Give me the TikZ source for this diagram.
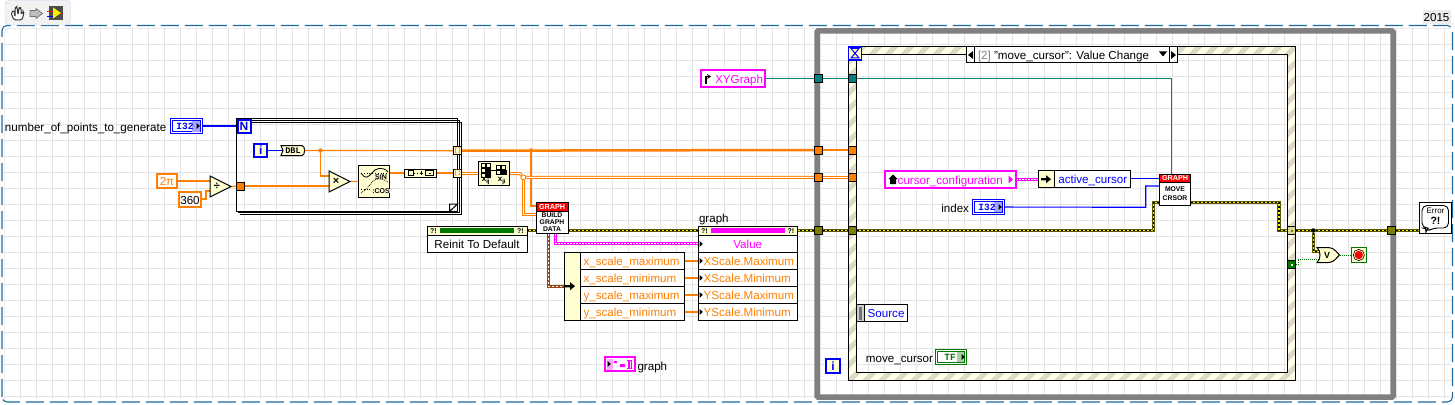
\documentclass[tikz,border=0pt]{standalone}
\usepackage{fontspec}
\setmainfont{Liberation Sans}
\setmonofont{Liberation Mono}
\usetikzlibrary{arrows.meta}
\definecolor{cream}{RGB}{255,255,210}
\definecolor{ringcream}{RGB}{255,255,232}
\definecolor{lvorange}{RGB}{255,128,0}
\definecolor{lvblue}{RGB}{0,0,255}
\definecolor{lvpink}{RGB}{255,0,255}
\definecolor{lvteal}{RGB}{0,128,128}
\definecolor{lvolive}{RGB}{128,128,0}
\definecolor{lvgreen}{RGB}{0,120,0}
\definecolor{lvbrown}{RGB}{150,70,25}
\definecolor{stripe}{RGB}{220,218,198}
\definecolor{framegray}{RGB}{128,128,128}
\definecolor{gridgray}{RGB}{228,228,228}
\definecolor{dashblue}{RGB}{30,105,160}
\pgfdeclarelayer{sheet}
\pgfdeclarelayer{wires}
\pgfsetlayers{sheet,wires,main}

\begin{document}
\begin{tikzpicture}[x=1pt, y=-1pt,
        box/.style 2 args = {minimum width=#1, minimum height=#2, inner sep=0, outer sep=0},
        txt/.style = {inner sep=0, outer sep=0, text height=9, text depth=0, font=\fontsize{11.6}{12}\selectfont},
        tiny/.style = {inner sep=0, outer sep=0, font=\fontsize{7}{7.2}\selectfont\bfseries, align=center},
        mono/.style = {inner sep=0, outer sep=0, font=\fontsize{9.5}{10}\ttfamily\bfseries},
        sym/.style = {inner sep=0, outer sep=0, font=\fontsize{11}{11}\selectfont\bfseries},
        block/.style = {draw=black, line width=1, fill=cream},
        white block/.style = {draw=black, line width=1, fill=white},
        tag/.style = {draw=#1, line width=2, fill=cream},
        ctrl/.style = {draw=#1, line width=1.2, double=white, double distance=1, fill=white},
        const/.style = {draw=lvorange, line width=2, fill=white},
        ref/.style = {draw=lvpink, line width=2, fill=white},
        tunnel/.style = {box={8}{8}, draw=black, line width=1, fill=#1},
        title/.style = {fill=red, text=white, font=\fontsize{7.2}{7.5}\selectfont\bfseries, inner sep=0},
        row/.style = {box={99.5}{17}, white block, txt, text=lvorange, text width=99.5, align=left, execute at begin node=\hspace*{5.7pt}},
        subrow/.style = {box={104}{17}, white block, txt, text=lvorange, text width=104, align=left, execute at begin node=\hspace*{3pt}},
        owire/.style = {draw=lvorange, line width=1.2},
        othick/.style = {draw=lvorange, line width=2.5},
        odouble/.style = {draw=lvorange, line width=1, double=white, double distance=1},
        bwire/.style = {draw=lvblue, line width=1.1},
        twire/.style = {draw=lvteal, line width=1.1},
        gwire/.style = {draw=lvgreen, line width=1, dash pattern=on 1 off 1},
        errwire/.style = {draw=yellow, line width=1.4, preaction={draw=black!30!lvolive, line width=3.4}, postaction={draw=black, line width=1.4, dash pattern=on 2 off 2}},
        pinkwire/.style = {draw=lvpink, line width=3.2, postaction={draw=white, line width=1, dash pattern=on 2 off 1}},
        brownwire/.style = {draw=lvbrown, line width=3.2, postaction={draw=white, line width=0.8, dash pattern=on 2 off 2}},
        tri/.pic = {\fill (-1.5,-3) -- (1.8,0) -- (-1.5,3) -- cycle;},
        fatarrow/.pic = {\fill (-5,-1.2) -- (0,-1.2) -- (0,-4) -- (5,0) -- (0,4) -- (0,1.2) -- (-5,1.2) -- cycle;}]
    \useasboundingbox (0,0) rectangle (1455,404);
    \begin{pgfonlayer}{sheet}
    \fill[white] (0,0) rectangle (1455,404);
    \foreach \gx in {20.5,36.5,...,1450} \draw[gridgray] (\gx,28.5) -- (\gx,399);
    \foreach \gy in {44.5,60.5,...,399} \draw[gridgray] (4.5,\gy) -- (1451,\gy);
    \draw[gridgray!90!black, rounded corners=4] (4.5,399) -- (4.5,28.5) -- (1451,28.5);
    \draw[dashblue, line width=1.1, dash pattern=on 18 off 6, rounded corners=5] (2,402) -- (2,25.5) -- (1452.5,25.5) -- (1452.5,402) -- cycle;
    \draw[draw=black!15!blue!20!white, fill=black!5, rounded corners=4] (5,25) -- (5,0.5) -- (70.5,0.5) -- (70.5,25) -- cycle;
    \draw[framegray, line width=5.5, rounded corners=1] (817,31) rectangle (1393,397);
    \fill[ringcream, even odd rule] (848.5,46.5) rectangle (1295.5,380) (856.5,54.5) rectangle (1287.5,372);
    \begin{scope}[even odd rule]
        \clip (848.5,46.5) rectangle (1295.5,380) (856.5,54.5) rectangle (1287.5,372);
        \foreach \sx in {494,510,...,1296} \draw[stripe, line width=5] (\sx,400) -- ++(360,-360);
    \end{scope}
    \draw[black, line width=1] (848.5,46.5) rectangle (1295.5,380);
    \draw[black, line width=1] (856.5,54.5) rectangle (1287.5,372);
    \end{pgfonlayer}

    \draw[black!80, line width=1, fill=white, rounded corners=1.5] (11,13) -- (14,10) -- (15,17) -- (15,8) -- (17,6.5) -- (18,15) -- (19,7.5) -- (21,8) -- (21,15) -- (23,11) -- (24,13) -- (22,20) -- (14,20) -- cycle;
    \draw[black!55, fill=black!25, line width=0.7] (30,10.5) -- (36,10.5) -- (36,8.5) -- (42.5,13.5) -- (36,18.5) -- (36,16.5) -- (30,16.5) -- cycle;
    \fill[black!70] (49,6) rectangle (63,20);
    \fill[yellow] (53,7.5) -- (61,13) -- (53,18.5) -- cycle;
    \draw[red, line width=0.8] (47,11) -- (53,11);
    \draw[blue, line width=0.8] (47,16) -- (53,16);
    \draw[red, line width=0.8] (61,13) -- (63,13);
    \node[txt, fill=black!8, box={28}{14}] (year) at (1436.5,17) {2015};

    \node[txt, anchor=west] (numlabel) at (5,126.5) {number\_of\_points\_to\_generate};
    \node[ctrl=lvblue, box={30}{13.5}] (1) at (186.2,126) {};
    \fill[lvblue!35] (192,120.5) rectangle (199.5,131.5);
    \node[mono, text=lvblue] (1t) at (185,126) {I32};
    \pic at (198,126) {tri};

    \draw[draw=black, line width=1] (238,120) -- (459.5,120) -- (459.5,212.7) -- (238,212.7);
    \draw[draw=black, line width=1] (240,122) -- (461.5,122) -- (461.5,214.7) -- (240,214.7);
    \node[box={221}{93}, draw=black, line width=1, fill=none] (2) at (347,165) {};
    \draw[white block] (449.5,211.5) -- (449.5,204) -- (457.5,204) -- cycle;
    \node[tag=lvblue, box={13}{13}, text=lvblue, font=\fontsize{12}{12}\selectfont\bfseries] (3) at (244,126) {N};
    \node[tag=lvblue, box={13}{13}, text=lvblue, font=\fontsize{12}{12}\selectfont\bfseries] (4) at (260.7,150.5) {i};
    \draw[block] (281,145.5) -- (302,145.5) .. controls (305.5,146) and (305.5,155) .. (302,155.5) -- (281,155.5) -- (283,150.5) -- cycle;
    \node[mono, font=\fontsize{8.6}{9}\ttfamily\bfseries] (5) at (293,150.5) {DBL};
    \coordinate (5r) at (305,150.5);
    \node[const, box={19.5}{13.5}, txt, text=lvorange] (6) at (167,181.2) {2π};
    \node[const, box={22}{15.5}, txt] (7) at (190,199.7) {360};
    \draw[block] (210,176) -- (231,186.5) -- (210,197) -- cycle;
    \node[sym] (8) at (217,186.5) {÷};
    \node[box={8}{8}, draw=black, line width=1, fill=lvorange] (9) at (240.5,186) {};
    \draw[block] (329,171) -- (350,181.5) -- (329,192) -- cycle;
    \node[sym] (10) at (336,181.5) {×};

    \node[block, box={31}{32}] (11) at (374,181) {};
    \draw[black, line width=0.8, dotted] (361,173) -- (388,173);
    \draw[black, line width=0.8, dotted] (361,189) -- (388,189);
    \draw[black, line width=0.8] (361,173) .. controls (366,180) and (368,177) .. (372,173) .. controls (375,168) and (383,166) .. (388,172);
    \draw[black, line width=0.8, densely dotted] (361,193) .. controls (366,190) and (369,186) .. (373,181) .. controls (376,178) and (382,178) .. (388,182);
    \node[tiny, fill=cream] (11a) at (381,177) {SIN};
    \node[tiny, fill=cream] (11b) at (381,191) {:COS};
    \node[block, box={32}{8}] (12) at (420,173) {};
    \draw[black, line width=0.9] (408,170.8) rectangle (413,175.4);
    \draw[black, line width=0.9, dotted] (414,173) -- (419,173);
    \draw[black, line width=0.9] (419.5,173) -- (423,173) (421.2,171.3) -- (421.2,174.7);
    \draw[black, line width=0.9] (425.5,170.5) rectangle (433.5,175.5);
    \fill (429,172.5) rectangle (430.5,174);

    \node[tunnel=cream, text=lvorange, font=\fontsize{6.5}{6.5}\selectfont\bfseries] (13) at (457.5,150.7) {[\,]};
    \node[tunnel=cream, text=lvorange, font=\fontsize{6.5}{6.5}\selectfont\bfseries] (14) at (457.5,173) {[\,]};
    \node[block, box={31.5}{24.2}] (15) at (494.2,173.6) {};
    \foreach \mx/\my in {481/163,486/163,481/168,486/168,481/173} \draw[black, line width=0.7] (\mx,\my) rectangle ++(4.5,4.5);
    \fill (486,168) rectangle (490.5,177.5);
    \foreach \mx/\my in {496/165,501/165,496/170,501/170} \draw[black, line width=0.7] (\mx,\my) rectangle ++(4.5,4.5);
    \fill (501.5,170) rectangle (506.5,174.5);
    \draw[black, line width=0.7] (490.5,170) -- (496,170);
    \node[inner sep=0, font=\fontsize{8}{8}\selectfont\bfseries] (15a) at (486,181) {x\textsubscript{ij}};
    \node[inner sep=0, font=\fontsize{8}{8}\selectfont\bfseries] (15b) at (502,181) {x\textsubscript{ji}};

    \node[white block, box={100}{26}] (16) at (477,239.5) {};
    \node[block, box={100}{8.5}] (16a) at (477,230.75) {};
    \fill[lvgreen] (440,228) rectangle (514,233);
    \node[tiny] (16b) at (433.5,230.75) {?!};
    \node[tiny] (16c) at (520.5,230.75) {?!};
    \node[txt] (16d) at (477,244) {Reinit To Default};

    \node[white block, box={32}{31}] (17) at (552,218) {};
    \node[title, box={32}{8.5}, draw=black, line width=1] (17a) at (552,206.75) {GRAPH};
    \node[tiny, font=\fontsize{6.8}{7}\selectfont\bfseries] (17b) at (552,222.3) {BUILD\\GRAPH\\DATA};

    \node[txt, anchor=west] (18) at (699,218) {graph};
    \node[block, box={99.5}{9}] (19) at (747.75,231) {};
    \fill[lvpink] (711,228) rectangle (785,233);
    \node[tiny] (19a) at (704.5,231) {?!};
    \node[tiny] (19b) at (791,231) {?!};
    \node[white block, box={99.5}{17}, txt, text=lvpink] (20) at (747.75,243.9) {Value};
    \node[row] (21) at (747.75,260.9) {XScale.Maximum};
    \node[row] (22) at (747.75,277.9) {XScale.Minimum};
    \node[row] (23) at (747.75,294.9) {YScale.Maximum};
    \node[row] (24) at (747.75,311.9) {YScale.Minimum};
    \pic at (701,243.9) {tri};
    \pic at (701,260.9) {tri};
    \pic at (701,277.9) {tri};
    \pic at (701,294.9) {tri};
    \pic at (701,311.9) {tri};

    \node[block, box={16}{68}] (25) at (572.5,286.4) {};
    \node[subrow] (26) at (632.5,260.9) {x\_scale\_maximum};
    \node[subrow] (27) at (632.5,277.9) {x\_scale\_minimum};
    \node[subrow] (28) at (632.5,294.9) {y\_scale\_maximum};
    \node[subrow] (29) at (632.5,311.9) {y\_scale\_minimum};
    \pic at (570,286.2) {fatarrow};

    \node[ref, box={30}{13.5}] (30) at (620.3,364) {};
    \fill[lvpink!35] (607,358.5) rectangle (613,369.5);
    \pic at (609,364) {tri};
    \fill[lvpink] (614,361) rectangle (617,363) (620,364) rectangle (625,367) (628,361) rectangle (630,368);
    \draw[lvpink, line width=0.8] (627,360) -- (631,360) -- (631,368.5) -- (627,368.5);
    \node[txt, anchor=west] (31) at (637.5,365.5) {graph};

    \node[ref, box={63.7}{16.4}, txt, text=lvpink, text width=63.7, align=left, execute at begin node=\hspace*{14pt}] (32) at (733.1,78.5) {XYGraph};
    \draw[black, line width=1.6, -{Stealth[length=4,width=5]}] (706,84) -- (706,76.5) -- (711,76.5);
    \node[tunnel=lvteal] (33) at (818.5,78.5) {};
    \node[tunnel=lvteal] (34) at (852.7,78.5) {};
    \node[tunnel=lvorange] (35) at (818.5,150) {};
    \node[tunnel=lvorange] (36) at (852.7,150) {};
    \node[tunnel=lvorange] (37) at (818.5,177.5) {};
    \node[tunnel=lvorange] (38) at (852.7,177.5) {};
    \node[tunnel=lvolive] (39) at (818.5,230.5) {};
    \node[tunnel=lvolive] (40) at (852.7,230.5) {};

    \node[box={13}{13}, draw=lvblue, line width=1.6, fill=cream] (41) at (855,53.3) {};
    \draw[lvblue, line width=1] (851,48.5) -- (859,48.5) -- (851,58) -- (859,58) -- cycle;
    \node[white block, box={210.6}{15.6}] (42) at (1072,54.5) {};
    \draw[black, line width=1] (974,46.7) -- (974,62.3);
    \draw[black, line width=1] (1169.3,46.7) -- (1169.3,62.3);
    \fill (973,51) -- (973,59) -- (968,55) -- cycle;
    \fill (1171,51) -- (1171,59) -- (1176,55) -- cycle;
    \fill (1159,51.5) -- (1167,51.5) -- (1163,56.5) -- cycle;
    \node[txt, anchor=west] (43) at (978,54.7) {{\color{black!50}[2]} "move\_cursor": Value Change};

    \node[ref, box={131}{16.4}, txt, text=lvpink, text width=131, align=left, execute at begin node=\hspace*{13pt}] (44) at (950.2,179.5) {cursor\_configuration};
    \fill (888.5,179) -- (893,174.5) -- (897.5,179) -- (896,179) -- (896,184) -- (890,184) -- (890,179) -- cycle;
    \fill[lvpink] (1008.5,175.5) -- (1013,179.5) -- (1008.5,183.5) -- cycle;
    \node[white block, box={92.4}{17.4}] (45) at (1084.5,179) {};
    \node[block, box={16.4}{17.4}] (46) at (1046.5,179) {};
    \pic at (1046,179.2) {fatarrow};
    \node[txt, text=lvblue, anchor=west] (47) at (1058.3,179) {active\_cursor};
    \node[txt, anchor=east] (48) at (969,207.5) {index};
    \node[ctrl=lvblue, box={30}{13.5}] (49) at (988.3,207) {};
    \fill[lvblue!35] (994,202) rectangle (1001.5,212);
    \node[mono, text=lvblue] (49t) at (987,207) {I32};
    \pic at (1000,207) {tri};

    \node[white block, box={31.4}{31.4}] (50) at (1175,190) {};
    \node[title, box={31.4}{8.2}, draw=black, line width=1] (50a) at (1175,178.4) {GRAPH};
    \node[tiny, font=\fontsize{6.8}{9}\selectfont\bfseries] (50b) at (1175,194) {MOVE\\CRSOR};

    \node[white block, box={51}{17.4}, txt, text=lvblue, text width=51, align=left, execute at begin node=\hspace*{11pt}] (51) at (882.2,313) {Source};
    \fill[black!20] (857,304.8) rectangle (864,321.2);
    \fill[black!55] (859,306.5) rectangle (862,319.5);
    \draw[black, line width=1] (864,304.3) -- (864,321.7);
    \node[txt, anchor=east] (52) at (933,357.5) {move\_cursor};
    \node[ctrl=lvgreen, box={29.5}{13.5}] (53) at (951,357) {};
    \fill[lvgreen!35] (957,352) rectangle (964,362);
    \node[mono, text=lvgreen] (53t) at (950,357) {TF};
    \pic at (963,357) {tri};
    \node[tag=lvblue, box={13.5}{13.5}, text=lvblue, font=\fontsize{12}{12}\selectfont\bfseries] (54) at (833,366) {i};

    \node[tunnel=lvolive!30!cream] (55) at (1291.5,230.5) {};
    \fill[lvolive] (1290.5,229.5) rectangle (1292.5,231.5);
    \node[tunnel=lvgreen] (56) at (1291.5,264.5) {};
    \fill[white] (1290.5,263.5) rectangle (1292.5,265.5);
    \node[tunnel=lvolive] (57) at (1391.5,230.5) {};
    \draw[block] (1317,247.5) .. controls (1321,251) and (1321,259) .. (1317,262.7) -- (1327,262.7) .. controls (1333,262) .. (1339.5,255) .. controls (1333,248) .. (1327,247.5) -- cycle;
    \node[sym, font=\fontsize{9}{9}\selectfont\bfseries] (58) at (1327,255) {V};
    \node[box={14.5}{14.5}, draw=lvgreen, line width=1, fill=cream] (59) at (1358.8,255) {};
    \fill[red] (1358.8,255) circle (4.2);
    \draw[black, line width=0.6] (1358.8,255) circle (5.6);
    \node[white block, box={32.4}{31.4}] (60) at (1435.5,218) {};
    \draw[black, line width=0.9, rounded corners=5] (1422,205.5) -- (1448.5,205.5) -- (1448.5,228) -- (1433,228) -- (1426,232) -- (1428,228) -- (1422,228) -- cycle;
    \node[inner sep=0, font=\fontsize{8}{8}\selectfont] (60a) at (1435.5,211) {Error};
    \node[inner sep=0, font=\fontsize{10.5}{10}\selectfont\bfseries] (60b) at (1435.5,221) {?!};
    \node[circle, fill=black, inner sep=0, minimum size=4.5] (61) at (1313.3,230.5) {};

    \coordinate (w1) at (320.5,150.5);
    \node[circle, fill=lvorange, inner sep=0, minimum size=4.5] (w2) at (w1) {};
    \node[circle, fill=lvorange, inner sep=0, minimum size=4] (w3) at (531,150.2) {};
    \node[circle, draw=lvorange, fill=white, line width=1, inner sep=0, minimum size=5] (w4) at (523.3,177.3) {};
    \coordinate (p1) at (329,176);
    \coordinate (p2) at (329,186);
    \coordinate (p3) at (210,181);
    \coordinate (p4) at (210.5,191);
    \coordinate (p5) at (206,199);
    \coordinate (p6) at (206,191);
    \coordinate (p7) at (350,181.5);
    \coordinate (p8) at (231,186.5);
    \coordinate (p9) at (536,206);
    \coordinate (p10) at (531,206);
    \coordinate (p11) at (536,214.3);
    \coordinate (p12) at (523.3,214.3);
    \coordinate (p13) at (1171.7,78.5);
    \coordinate (p14) at (1145.7,207.3);
    \coordinate (p15) at (1145.7,186);
    \coordinate (p16) at (1159.3,186);
    \coordinate (p17) at (1153.7,230.5);
    \coordinate (p18) at (1153.7,202.3);
    \coordinate (p19) at (1279,202.3);
    \coordinate (p20) at (1279,230.5);
    \coordinate (p21) at (1313.3,251.7);
    \coordinate (p22) at (1319,251.7);
    \coordinate (p23) at (1298,264.5);
    \coordinate (p24) at (1298,259.3);
    \coordinate (p25) at (1320,259.3);
    \coordinate (p26) at (1339.5,255);
    \coordinate (p27) at (548.5,233.5);
    \coordinate (p28) at (548.5,286.2);
    \coordinate (p29) at (555.8,233.5);
    \coordinate (p30) at (555.8,243.2);
    \coordinate (p31) at (510,173.7);
    \coordinate (p32) at (520,173.7);
    \coordinate (p33) at (1159.3,178.7);
    \coordinate (p34) at (1130.7,178.7);

    \begin{pgfonlayer}{wires}
    \draw[bwire] (1) -- (3);
    \draw[bwire] (4) -- (5);
    \draw[owire] (5r) -- (13);
    \draw[owire] (w2) |- (p1);
    \draw[owire] (9) -- (p2);
    \draw[owire] (6.east |- p3) -- (p3);
    \draw[owire] (7.east |- p5) -- (p5) -- (p6) -- (p4);
    \draw[owire] (p8) -- (9);
    \draw[owire] (p7) -- (11.west |- p7);
    \draw[owire] (11.east |- 12) -- (12);
    \draw[othick] (12) -- (14);
    \draw[othick] (13) -- (35);
    \draw[othick] (35) -- (36);
    \draw[othick] (w3) -- (p10) -- (p9);
    \draw[odouble] (14.east |- p31) -- (15.west |- p31);
    \draw[odouble] (p31) -- (p32) -- (w4);
    \draw[odouble] (w4) -- (37);
    \draw[odouble] (37) -- (38);
    \draw[odouble] (w4) -- (p12) -- (p11);
    \draw[errwire] (16.east |- 39) -- (17.west |- 39);
    \draw[errwire] (17.east |- 39) -- (39);
    \draw[errwire] (39) -- (40);
    \draw[errwire] (40) -- (p17) -- (p18) -- (50.west |- p18);
    \draw[errwire] (50.east |- p19) -- (p19) -- (p20) -- (55);
    \draw[errwire] (55) -- (57);
    \draw[errwire] (57) -- (60.west |- 57);
    \draw[errwire] (61) -- (p21) -- (p22);
    \draw[pinkwire] (p29) -- (p30) -- (20.west |- p30);
    \draw[brownwire] (p27) -- (p28) -- (25.west |- p28);
    \draw[owire] (26) -- (21);
    \draw[owire] (27) -- (22);
    \draw[owire] (28) -- (23);
    \draw[owire] (29) -- (24);
    \draw[twire] (32) -- (33);
    \draw[twire] (33) -- (34);
    \draw[twire] (34) -- (p13) -- (p13 |- 50.north);
    \draw[pinkwire] (44) -- (45.west |- 44);
    \draw[bwire] (p34) -- (p33);
    \draw[bwire] (49) -- (p14) -- (p15) -- (p16);
    \draw[gwire] (56) -- (p23) -- (p24) -- (p25);
    \draw[gwire] (p26) -- (59);
    \end{pgfonlayer}
\end{tikzpicture}
\end{document}
